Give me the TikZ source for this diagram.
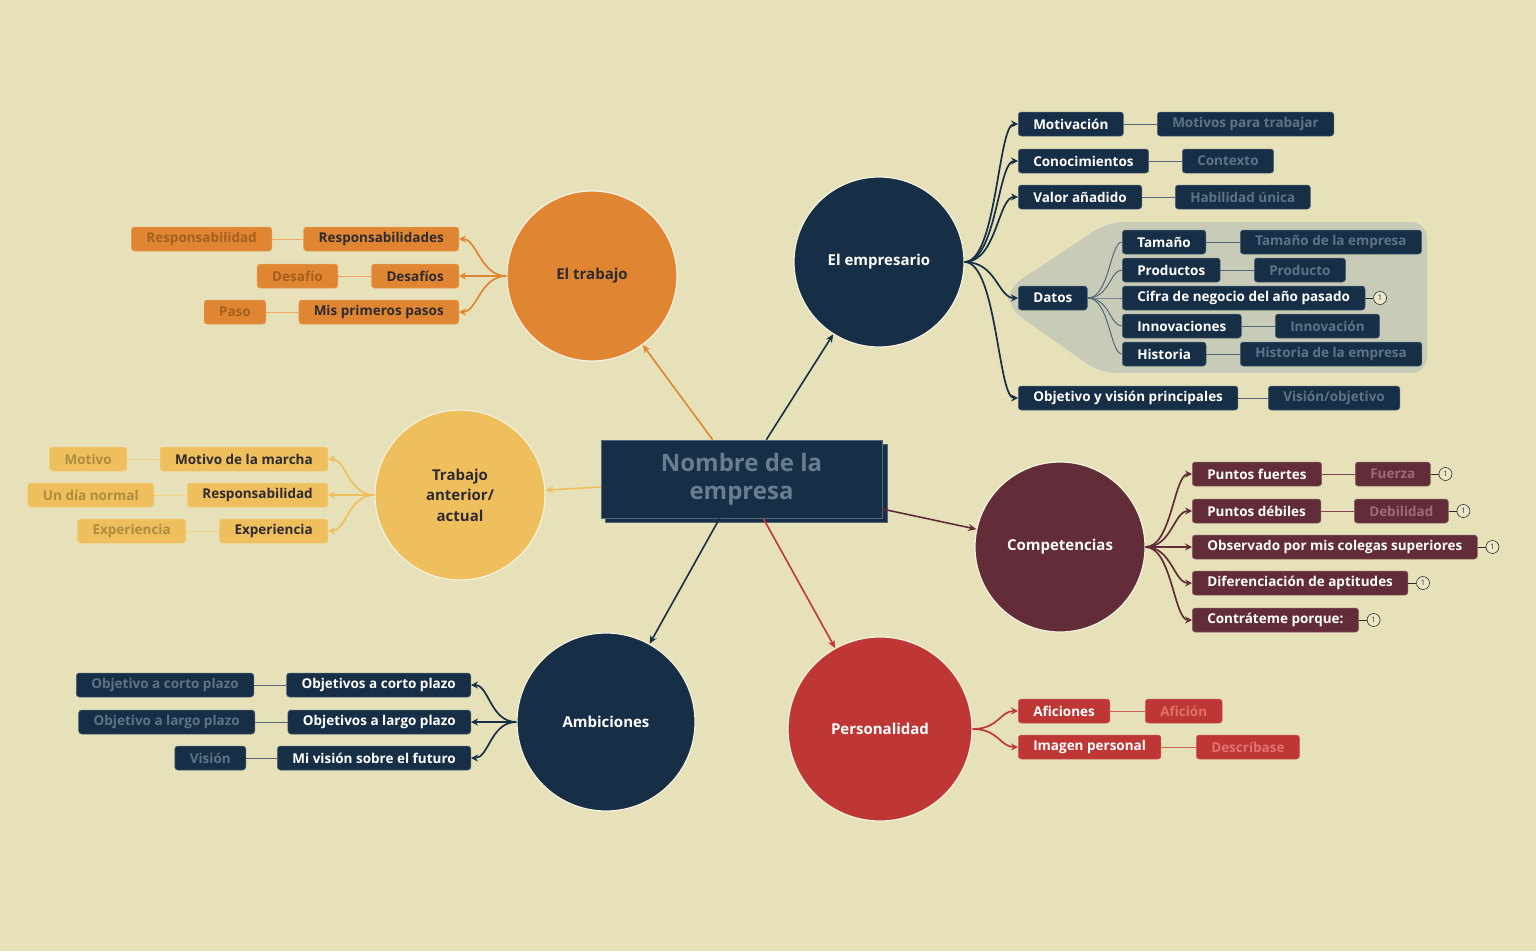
\documentclass[tikz,border=0pt]{standalone}
\usepackage{fontspec}
\setmainfont{Open Sans}
\usetikzlibrary{arrows.meta,positioning}
\definecolor{bg}{HTML}{E6E1B9}
\definecolor{navy}{HTML}{162E46}
\definecolor{navyfade}{HTML}{5F7386}
\definecolor{navyline}{HTML}{55687A}
\definecolor{orng}{HTML}{E08633}
\definecolor{orngfade}{HTML}{A65F1F}
\definecolor{orngline}{HTML}{EEA764}
\definecolor{yel}{HTML}{EFBF5D}
\definecolor{yelfade}{HTML}{AD8C40}
\definecolor{yelline}{HTML}{F3D186}
\definecolor{mar}{HTML}{622D38}
\definecolor{marfade}{HTML}{9D6B75}
\definecolor{marline}{HTML}{7E4852}
\definecolor{rd}{HTML}{BF3734}
\definecolor{rdfade}{HTML}{E0716F}
\definecolor{rdline}{HTML}{D0605D}
\definecolor{darktxt}{HTML}{2E2B30}
\definecolor{datosbg}{HTML}{C8CBB8}
\definecolor{centertxt}{HTML}{687D90}
\definecolor{rimcol}{HTML}{F6F2DE}
\newcommand{\myfs}[2]{\fontsize{#1}{#2}\selectfont}
\tikzset{
  box/.style={rounded corners=3pt, minimum height=24pt, inner xsep=15pt, inner ysep=0pt,
    font=\myfs{13.5}{16}\bfseries, line width=0.5pt},
  nv/.style={box, fill=navy, draw=navy!75!white, text=white},
  nvf/.style={box, fill=navy, draw=navy!75!white, text=navyfade},
  og/.style={box, fill=orng, draw=orng!80!white, text=darktxt},
  ogf/.style={box, fill=orng, draw=orng!80!white, text=orngfade},
  yl/.style={box, fill=yel, draw=yel!80!white, text=darktxt},
  ylf/.style={box, fill=yel, draw=yel!80!white, text=yelfade},
  mr/.style={box, fill=mar, draw=mar!75!white, text=white},
  mrf/.style={box, fill=mar, draw=mar!75!white, text=marfade},
  rr/.style={box, fill=rd, draw=rd!80!white, text=white},
  rrf/.style={box, fill=rd, draw=rd!80!white, text=rdfade},
  topic/.style={circle, minimum size=170pt, inner sep=0pt, draw=rimcol, line width=1.2pt,
    font=\myfs{15}{20.5}\bfseries, align=center},
  mainarr/.style={line width=1.6pt, -{Stealth[length=8pt,width=7pt,inset=2.5pt]}},
  br/.style={line width=1.7pt, -{Stealth[length=7pt,width=7pt,inset=2.5pt]}},
  thin/.style={line width=1pt},
  badge/.style={circle, minimum size=13pt, inner sep=0pt, fill=bg!80!white, draw=darktxt,
    line width=0.6pt, font=\myfs{7.5}{7.5}, text=darktxt},
}
\begin{document}
\begin{tikzpicture}[x=1pt,y=-1pt]
\useasboundingbox (0,0) rectangle (1536,951);
\fill[bg] (0,0) rectangle (1536,951);

% Datos region
\fill[datosbg, rounded corners=16pt] (1008,288) -- (1108,222) -- (1427,222) -- (1427,373) -- (1100,373) -- (1008,308) -- cycle;

% central topic
\fill[navy] (605,444) rectangle (887,522);
\draw[navyline, line width=0.6pt] (605,444) rectangle (887,522);
\node[fill=navy, draw=navyline, line width=0.6pt, minimum width=281pt, minimum height=78pt,
  inner sep=0pt, align=center, text=centertxt, font=\myfs{24}{28}\bfseries] (c) at (741.5,479) {Nombre de la\\empresa};

% main topics
\node[topic, fill=orng, text=darktxt] (trab) at (592,276) {El trabajo};
\node[topic, fill=navy, text=white] (emp) at (879,262) {El empresario};
\node[topic, fill=yel, text=darktxt] (ant) at (460,495) {Trabajo\\anterior/\\actual};
\node[topic, fill=mar, text=white] (comp) at (1060,547) {Competencias};
\node[topic, fill=navy, text=white, minimum size=178pt] (amb) at (606,722) {Ambiciones};
\node[topic, fill=rd, text=white, minimum size=184pt] (pers) at (880,729) {Personalidad};

\draw[mainarr, orng] (c) -- (trab);
\draw[mainarr, navy] (c) -- (emp);
\draw[mainarr, yel] (c) -- (ant);
\draw[mainarr, mar] (c) -- (comp);
\draw[mainarr, navy] (c) -- (amb);
\draw[mainarr, rd] (c) -- (pers);

% El empresario
\node[nv, anchor=west] (mot) at (1018,124) {Motivación};
\node[nvf, anchor=west] (motS) at (1157,124) {Motivos para trabajar};
\node[nv, anchor=west] (con) at (1018,161) {Conocimientos};
\node[nvf, anchor=west] (conS) at (1182,161) {Contexto};
\node[nv, anchor=west] (val) at (1018,197) {Valor añadido};
\node[nvf, anchor=west] (valS) at (1175,197) {Habilidad única};
\node[nv, anchor=west] (dat) at (1018,298) {Datos};
\node[nv, anchor=west] (tam) at (1122,242) {Tamaño};
\node[nvf, anchor=west] (tamS) at (1240,242) {Tamaño de la empresa};
\node[nv, anchor=west] (pro) at (1122,270) {Productos};
\node[nvf, anchor=west] (proS) at (1254,270) {Producto};
\node[nv, anchor=west] (cif) at (1122,298) {Cifra de negocio del año pasado};
\node[badge, right=8pt of cif] (cifB) {1};
\node[nv, anchor=west] (inn) at (1122,326) {Innovaciones};
\node[nvf, anchor=west] (innS) at (1275,326) {Innovación};
\node[nv, anchor=west] (his) at (1122,354) {Historia};
\node[nvf, anchor=west] (hisS) at (1240,354) {Historia de la empresa};
\node[nv, anchor=west] (obj) at (1018,398) {Objetivo y visión principales};
\node[nvf, anchor=west] (objS) at (1268,398) {Visión/objetivo};

\foreach \n in {mot,con,val,dat,obj}
  \draw[br, navy] (emp.east) .. controls +(32,0) and +(-20,0) .. (\n.west);
\foreach \n in {tam,pro,cif,inn,his}
  \draw[thin, navyline] (dat.east) .. controls +(22,0) and +(-12,0) .. (\n.west);
\foreach \n in {mot,con,val,tam,pro,inn,his,obj}
  \draw[thin, navyline] (\n) -- (\n S);
\draw[thin, darktxt] (cif) -- (cifB);

% Competencias
\node[mr, anchor=west] (pf) at (1192,474) {Puntos fuertes};
\node[mrf, anchor=west] (pfS) at (1355,474) {Fuerza};
\node[badge, right=8pt of pfS] (pfSB) {1};
\node[mr, anchor=west] (pd) at (1192,511) {Puntos débiles};
\node[mrf, anchor=west] (pdS) at (1354,511) {Debilidad};
\node[badge, right=8pt of pdS] (pdSB) {1};
\node[mr, anchor=west] (ob) at (1192,547) {Observado por mis colegas superiores};
\node[badge, right=8pt of ob] (obB) {1};
\node[mr, anchor=west] (di) at (1192,583) {Diferenciación de aptitudes};
\node[badge, right=8pt of di] (diB) {1};
\node[mr, anchor=west] (ct) at (1192,620) {Contráteme porque:};
\node[badge, right=8pt of ct] (ctB) {1};

\foreach \n in {pf,pd,ob,di,ct}
  \draw[br, mar] (comp.east) .. controls +(26,0) and +(-18,0) .. (\n.west);
\foreach \n in {pf,pd}
  \draw[thin, marline] (\n) -- (\n S);
\foreach \n in {pfS,pdS,ob,di,ct}
  \draw[thin, darktxt] (\n) -- (\n B);

% Personalidad
\node[rr, anchor=west] (af) at (1018,711) {Aficiones};
\node[rrf, anchor=west] (afS) at (1145,711) {Afición};
\node[rr, anchor=west] (im) at (1018,747) {Imagen personal};
\node[rrf, anchor=west] (imS) at (1196,747) {Descríbase};
\foreach \n in {af,im}
  \draw[br, rd] (pers.east) .. controls +(26,0) and +(-18,0) .. (\n.west);
\foreach \n in {af,im}
  \draw[thin, rdline] (\n) -- (\n S);

% Ambiciones
\node[nv, anchor=east] (oc) at (471,685) {Objetivos a corto plazo};
\node[nvf, anchor=east] (ocS) at (254,685) {Objetivo a corto plazo};
\node[nv, anchor=east] (ol) at (471,722) {Objetivos a largo plazo};
\node[nvf, anchor=east] (olS) at (255,722) {Objetivo a largo plazo};
\node[nv, anchor=east] (mv) at (471,758) {Mi visión sobre el futuro};
\node[nvf, anchor=east] (mvS) at (246,758) {Visión};
\foreach \n in {oc,ol,mv}
  \draw[br, navy] (amb.west) .. controls +(-26,0) and +(18,0) .. (\n.east);
\foreach \n in {oc,ol,mv}
  \draw[thin, navyline] (\n) -- (\n S);

% El trabajo
\node[og, anchor=east] (rs) at (459,239) {Responsabilidades};
\node[ogf, anchor=east] (rsS) at (272,239) {Responsabilidad};
\node[og, anchor=east] (de) at (459,276) {Desafíos};
\node[ogf, anchor=east] (deS) at (338,276) {Desafío};
\node[og, anchor=east] (mp) at (459,312) {Mis primeros pasos};
\node[ogf, anchor=east] (mpS) at (266,312) {Paso};
\foreach \n in {rs,de,mp}
  \draw[br, orng] (trab.west) .. controls +(-26,0) and +(18,0) .. (\n.east);
\foreach \n in {rs,de,mp}
  \draw[thin, orngline] (\n) -- (\n S);

% Trabajo anterior
\node[yl, anchor=east] (mm) at (328,459) {Motivo de la marcha};
\node[ylf, anchor=east] (mmS) at (127,459) {Motivo};
\node[yl, anchor=east] (re) at (328,495) {Responsabilidad};
\node[ylf, anchor=east] (reS) at (154,495) {Un día normal};
\node[yl, anchor=east] (ex) at (328,531) {Experiencia};
\node[ylf, anchor=east] (exS) at (186,531) {Experiencia};
\foreach \n in {mm,re,ex}
  \draw[br, yel] (ant.west) .. controls +(-26,0) and +(18,0) .. (\n.east);
\foreach \n in {mm,re,ex}
  \draw[thin, yelline] (\n) -- (\n S);
\end{tikzpicture}
\end{document}
